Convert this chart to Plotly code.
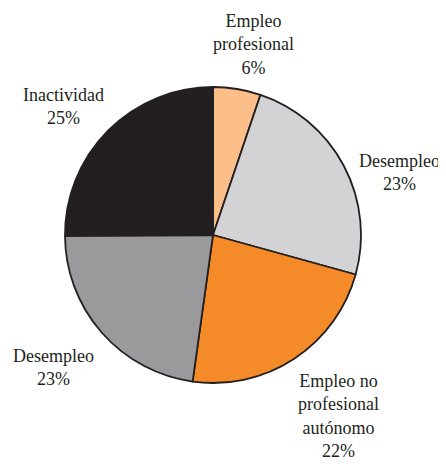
import plotly.graph_objects as go

# datos del grafico
etiquetas = ["Empleo profesional", "Desempleo", "Empleo no profesional autónomo", "Desempleo", "Inactividad"]
textos = ["Empleo<br>profesional<br>6%", "Desempleo<br>23%", "Empleo no<br>profesional<br>autónomo<br>22%",
          "Desempleo<br>23%", "Inactividad<br>25%"]
# tamano de cada sector (los textos llevan el porcentaje redondeado)
valores = [5.2, 24.1, 22.9, 22.7, 25.1]
colores = ["#FDBF8A", "#D3D3D5", "#F58A28", "#9A9A9C", "#231F20"]

# la pagina agrega un margen de 8px, se descuenta aqui
OFF = 8
W, H = 446 - OFF, 464 - OFF

# posicion de cada etiqueta (pixeles de la imagen de referencia)
pos_x = [253, 399, 338, 53, 63]
pos_y = [44, 172, 416, 367, 106]

fig = go.Figure()
fig.add_trace(go.Pie(
    labels=[f"{e} {i}" for i, e in enumerate(etiquetas)],
    values=valores,
    sort=False,
    direction="clockwise",
    rotation=0,
    textinfo="none",
    hoverinfo="skip",
    marker=dict(colors=colores, line=dict(color="#231F20", width=1.8)),
    domain=dict(x=[(65 - OFF) / W, (361 - OFF) / W], y=[1 - (383 - OFF) / H, 1 - (87 - OFF) / H]),
))

for t, x, y in zip(textos, pos_x, pos_y):
    fig.add_annotation(text=t, x=(x - OFF) / W, y=1 - (y - OFF) / H, xref="paper", yref="paper",
                       showarrow=False, align="center", xanchor="center", yanchor="middle",
                       font=dict(family="Liberation Serif", size=18, color="#231F20"))

fig.update_layout(width=W, height=H, margin=dict(l=0, r=0, t=0, b=0),
                  showlegend=False, paper_bgcolor="white", plot_bgcolor="white")

fig.write_html("out.html")
